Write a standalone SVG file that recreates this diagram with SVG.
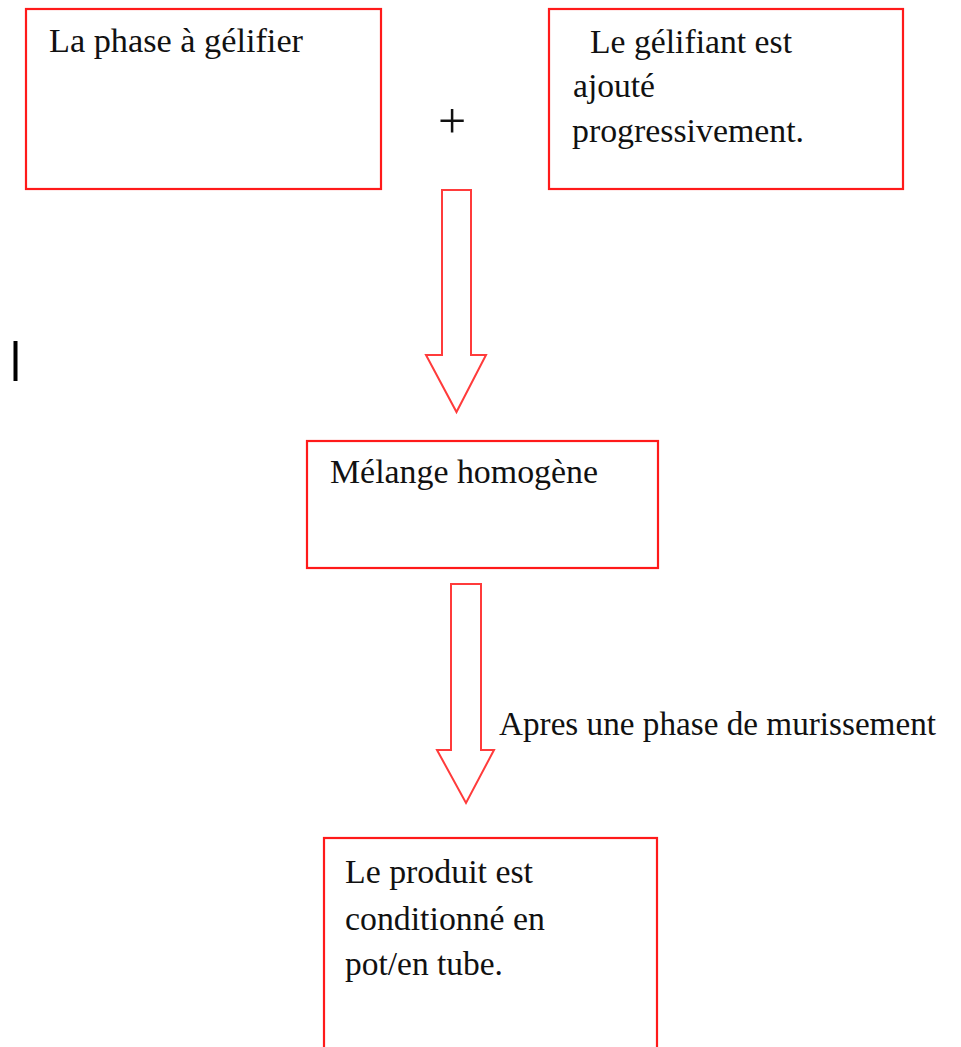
<svg xmlns="http://www.w3.org/2000/svg" width="961" height="1047" viewBox="0 0 961 1047">
<style>
.box{fill:#fff;stroke:#ff1a1a;stroke-width:2.2}
.arr{fill:#fff;stroke:#ff3b3b;stroke-width:2;stroke-linejoin:miter}
.t{font-family:"Liberation Serif","Times New Roman",serif;font-size:34px;fill:#111}
</style>
<rect width="961" height="1047" fill="#fff"/>
<g id="n1">
<rect class="box" x="26" y="9" width="355" height="180"/>
<text class="t" x="49" y="52" textLength="254" lengthAdjust="spacingAndGlyphs">La phase  à gélifier</text>
</g>
<g id="plus">
<text x="452" y="138" text-anchor="middle" style="font-family:'Liberation Serif',serif;font-size:50px;fill:#111">+</text>
</g>
<g id="n2">
<rect class="box" x="549" y="9" width="354" height="180"/>
<text class="t" x="590" y="53" textLength="202" lengthAdjust="spacingAndGlyphs">Le gélifiant est</text>
<text class="t" x="573" y="97" textLength="82" lengthAdjust="spacingAndGlyphs">ajouté</text>
<text class="t" x="572" y="142" textLength="232" lengthAdjust="spacingAndGlyphs">progressivement.</text>
</g>
<rect id="bar" x="13.5" y="341" width="4" height="40" fill="#000"/>
<g id="n3">
<rect class="box" x="307" y="441" width="351" height="127"/>
<text class="t" x="330" y="483" textLength="268" lengthAdjust="spacingAndGlyphs">Mélange homogène</text>
</g>
<g id="n4">
<rect class="box" x="324" y="838" width="333" height="215"/>
<text class="t" x="345" y="883" textLength="188" lengthAdjust="spacingAndGlyphs">Le produit est</text>
<text class="t" x="345" y="930" textLength="200" lengthAdjust="spacingAndGlyphs">conditionné en</text>
<text class="t" x="345" y="975" textLength="158" lengthAdjust="spacingAndGlyphs">pot/en tube.</text>
</g>
<g id="connectors">
<polygon class="arr" points="442,190 471,190 471,355 486,355 456.5,412 426,355 442,355"/>
<polygon class="arr" points="451,584 481,584 481,750 494,750 466,803 437,750 451,750"/>
<text class="t" x="499" y="735" textLength="437" lengthAdjust="spacingAndGlyphs">Apres une phase  de murissement</text>
</g>
</svg>
